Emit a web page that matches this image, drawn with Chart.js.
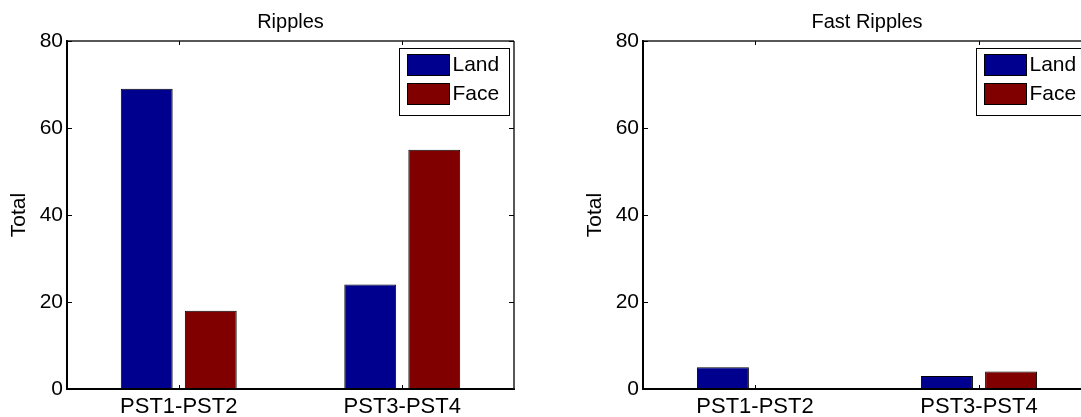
<!DOCTYPE html>
<html>
<head>
<meta charset="utf-8">
<script src="https://cdn.jsdelivr.net/npm/chart.js@4/dist/chart.umd.min.js"></script>
<style>
  html, body { margin: 0; padding: 0; background: #fff; overflow: hidden; }
  body { width: 1081px; height: 417px; position: relative; }
  canvas { position: absolute; top: 0; }
  #chartLeft { left: 0; }
  #chartRight { left: 576px; }
</style>
</head>
<body>
<canvas id="chartLeft" width="540" height="417"></canvas>
<canvas id="chartRight" width="540" height="417"></canvas>
<script>
const categories = ["PST1-PST2", "PST3-PST4"];
const seriesNames = ["Land", "Face"];
const seriesColors = ["#00008f", "#800000"];

const ripplesLand = [69, 24];
const ripplesFace = [18, 55];

const fastLand = [5, 3];
const fastFace = [0, 4];

const yTicks = [0, 20, 40, 60, 80];
const yLabel = "Total";

const FONT = "'Liberation Sans', Arial, Helvetica, sans-serif";


// box, inward ticks, title and legend drawn on top of the plot
const boxPlugin = {
  id: "boxPlugin",
  afterDraw(chart, args, opts) {
    const ctx = chart.ctx;
    const area = chart.chartArea;
    const xs = chart.scales.x;
    const ys = chart.scales.y;

    ctx.save();

    // top and right edges of the axes box
    ctx.strokeStyle = "#222";
    ctx.lineWidth = 1.5;
    ctx.beginPath();
    ctx.moveTo(area.left, area.top);
    ctx.lineTo(area.right, area.top);
    ctx.moveTo(area.right, area.top);
    ctx.lineTo(area.right, area.bottom);
    ctx.stroke();

    // inward tick marks
    ctx.strokeStyle = "#000";
    ctx.lineWidth = 1;
    ctx.beginPath();
    ys.ticks.forEach(t => {
      const y = Math.round(ys.getPixelForValue(t.value)) + 0.5;
      ctx.moveTo(area.left, y);
      ctx.lineTo(area.left + 5, y);
      ctx.moveTo(area.right, y);
      ctx.lineTo(area.right - 5, y);
    });
    xs.ticks.forEach((t, i) => {
      const x = Math.round(xs.getPixelForTick(i)) + 0.5;
      ctx.moveTo(x, area.bottom);
      ctx.lineTo(x, area.bottom - 4);
      ctx.moveTo(x, area.top);
      ctx.lineTo(x, area.top + 4);
    });
    ctx.stroke();

    // title
    ctx.fillStyle = "#000";
    ctx.font = "20px " + FONT;
    ctx.textAlign = "center";
    ctx.textBaseline = "alphabetic";
    ctx.fillText(opts.text, (area.left + area.right) / 2, area.top - 13);

    // legend box
    const boxW = 110;
    const boxH = 67;
    const bx = Math.round(area.right - 5 - boxW) + 0.5;
    const by = Math.round(area.top + 7) + 0.5;

    ctx.fillStyle = "#fff";
    ctx.fillRect(bx, by, boxW, boxH);
    ctx.strokeStyle = "#000";
    ctx.lineWidth = 1;
    ctx.strokeRect(bx, by, boxW, boxH);

    ctx.font = "21px " + FONT;
    ctx.textAlign = "left";
    ctx.textBaseline = "middle";

    chart.data.datasets.forEach((ds, i) => {
      const sy = by + 6 + i * 29;
      ctx.fillStyle = ds.backgroundColor;
      ctx.fillRect(bx + 8, sy, 42, 21);
      ctx.strokeStyle = "#000";
      ctx.strokeRect(bx + 8, sy, 42, 21);
      ctx.fillStyle = "#000";
      ctx.fillText(ds.label, bx + 53, sy + 11);
    });

    ctx.restore();
  }
};


function makeChart(canvasId, title, land, face, padRight) {
  const canvas = document.getElementById(canvasId);

  return new Chart(canvas.getContext("2d"), {
    type: "bar",
    data: {
      labels: categories,
      datasets: [land, face].map((values, i) => ({
        label: seriesNames[i],
        data: values,
        backgroundColor: seriesColors[i],
        borderColor: "#000",
        borderWidth: 1,
        borderSkipped: false,
        categoryPercentage: 0.573,
        barPercentage: 0.81
      }))
    },
    options: {
      responsive: false,
      animation: false,
      devicePixelRatio: 1,
      layout: {
        padding: { top: 41, right: padRight, bottom: 0, left: 0 }
      },
      plugins: {
        legend: { display: false },
        tooltip: { enabled: false },
        boxPlugin: { text: title }
      },
      scales: {
        x: {
          type: "category",
          offset: true,
          grid: { display: false, drawTicks: false },
          border: { display: true, color: "#000", width: 2 },
          ticks: {
            color: "#000",
            padding: 5,
            maxRotation: 0,
            font: { family: FONT, size: 22 }
          },
          afterFit(scale) {
            scale.height = 28;
          }
        },
        y: {
          min: yTicks[0],
          max: yTicks[yTicks.length - 1],
          grid: { display: false, drawTicks: false },
          border: { display: true, color: "#000", width: 2 },
          ticks: {
            color: "#000",
            padding: 4,
            font: { family: FONT, size: 21 }
          },
          afterBuildTicks(scale) {
            scale.ticks = yTicks.map(v => ({ value: v }));
          },
          title: {
            display: true,
            text: yLabel,
            color: "#000",
            padding: { top: 7, bottom: 0 },
            font: { family: FONT, size: 21 }
          },
          afterFit(scale) {
            scale.width = 67;
          }
        }
      }
    },
    plugins: [boxPlugin]
  });
}


makeChart("chartLeft", "Ripples", ripplesLand, ripplesFace, 26);
makeChart("chartRight", "Fast Ripples", fastLand, fastFace, 25);
</script>
</body>
</html>
